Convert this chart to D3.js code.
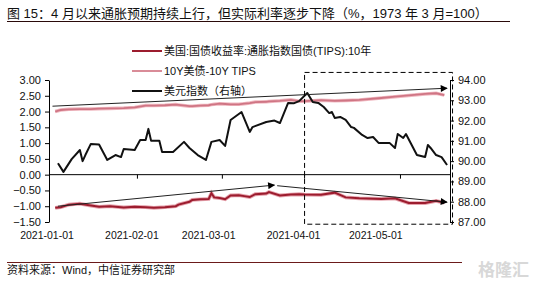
<!DOCTYPE html>
<html><head><meta charset="utf-8">
<script src="https://cdn.jsdelivr.net/npm/d3@7"></script>
<style>
html,body{margin:0;padding:0;background:#fff;}
svg{display:block;font-family:"Liberation Sans","Noto Sans CJK SC",sans-serif;}
</style></head>
<body><svg id="c" width="553" height="282"></svg>
<script>
// ---------- data ----------
const titleText = "图 15：4 月以来通胀预期持续上行，但实际利率逐步下降（%，1973 年 3 月=100）";
const sourceText = "资料来源：Wind，中信证券研究部";
const seriesNames = ["美国:国债收益率:通胀指数国债(TIPS):10年", "10Y美债-10Y TIPS", "美元指数（右轴）"];
const xLabelDates = ["2021-01-01","2021-02-01","2021-03-01","2021-04-01","2021-05-01"];
const xTickDates = ["2021-02-03","2021-03-06","2021-04-05","2021-05-10"];
const leftTicks = [-1.5,-1.0,-0.5,0,0.5,1.0,1.5,2.0,2.5,3.0];
const rightTicks = [87,88,89,90,91,92,93,94];

const rateDates = ["2021-01-04","2021-01-06","2021-01-09","2021-01-13","2021-01-17","2021-01-20","2021-01-24","2021-01-29",
 "2021-02-02","2021-02-06","2021-02-09","2021-02-13","2021-02-17","2021-02-18","2021-02-22","2021-02-23","2021-02-26",
 "2021-03-01","2021-03-02","2021-03-03","2021-03-05","2021-03-07","2021-03-09","2021-03-12","2021-03-14","2021-03-16",
 "2021-03-18","2021-03-22","2021-03-23","2021-03-27","2021-03-31","2021-04-03","2021-04-05","2021-04-11","2021-04-16",
 "2021-04-20","2021-04-25","2021-05-03","2021-05-08","2021-05-13","2021-05-19","2021-05-23","2021-05-26"];
const tipsYield = [-1.05,-1.03,-0.95,-0.92,-0.98,-1.02,-1.00,-1.04,
 -1.02,-1.03,-1.05,-1.03,-1.00,-0.95,-0.86,-0.80,-0.78,
 -0.77,-0.59,-0.72,-0.74,-0.78,-0.66,-0.65,-0.68,-0.71,
 -0.62,-0.60,-0.55,-0.66,-0.63,-0.62,-0.63,-0.64,-0.57,
 -0.72,-0.75,-0.77,-0.75,-0.90,-0.90,-0.83,-0.89];
const breakeven = [2.00,2.05,2.07,2.08,2.08,2.09,2.10,2.11,
 2.13,2.19,2.19,2.20,2.22,2.21,2.17,2.17,2.19,
 2.20,2.22,2.23,2.25,2.24,2.23,2.23,2.25,2.27,
 2.30,2.31,2.32,2.34,2.37,2.33,2.33,2.36,2.34,
 2.35,2.37,2.43,2.47,2.51,2.56,2.58,2.52];

const dxyDates = ["2021-01-05","2021-01-07","2021-01-10","2021-01-13","2021-01-14","2021-01-15","2021-01-17","2021-01-20",
 "2021-01-23","2021-01-26","2021-01-28","2021-01-29","2021-02-02","2021-02-04","2021-02-06","2021-02-07","2021-02-08",
 "2021-02-11","2021-02-12","2021-02-16","2021-02-20","2021-02-22","2021-02-25","2021-02-28","2021-03-02","2021-03-05",
 "2021-03-07","2021-03-09","2021-03-13","2021-03-16","2021-03-17","2021-03-22","2021-03-25","2021-03-27","2021-03-30",
 "2021-04-01","2021-04-03","2021-04-06","2021-04-08","2021-04-10","2021-04-12","2021-04-14","2021-04-15","2021-04-16",
 "2021-04-18","2021-04-20","2021-04-22","2021-04-23","2021-04-26","2021-04-28","2021-04-30","2021-05-02","2021-05-06",
 "2021-05-08","2021-05-09","2021-05-11","2021-05-12","2021-05-16","2021-05-19","2021-05-20","2021-05-21","2021-05-23",
 "2021-05-25","2021-05-27"];
const dxy = [89.90,89.47,90.10,90.55,90.00,90.30,90.85,90.82,
 90.06,90.30,90.20,90.60,90.55,91.04,91.04,91.59,91.00,
 91.00,90.45,90.45,90.95,90.65,90.30,90.06,90.95,91.04,
 90.75,92.03,92.42,91.44,91.68,91.93,92.00,91.88,92.87,
 92.85,92.96,93.36,92.92,92.87,92.67,92.37,92.42,92.13,
 92.18,92.03,91.68,91.64,91.29,91.14,91.19,90.90,90.90,
 90.65,91.34,91.14,91.34,90.30,90.20,90.80,90.65,90.30,
 90.20,89.81];

// annotation endpoints in data terms [date, left-axis value]
const upperArrow = [["2021-01-03",2.17],["2021-05-27",2.74]];
const lowerArrow1 = [["2021-01-05",-1.00],["2021-03-25",-0.33]];
const lowerArrow2 = [["2021-03-26",-0.35],["2021-05-27",-0.87]];
const boxDates = ["2021-04-05","2021-05-29"];
const boxValues = [3.24,-1.57];

// ---------- drawing ----------
const parse = d3.timeParse("%Y-%m-%d");
const svg = d3.select("#c");
const L = 49, R = 450, T = 80, B = 222;
const x = d3.scaleTime().domain([parse("2021-01-01"), parse("2021-05-28")]).range([47, 449.8]);
const yL = d3.scaleLinear().domain([-1.5, 3]).range([B, T]);
const yR = d3.scaleLinear().domain([87, 94]).range([B, T]);

// title
svg.append("text").attr("x",7).attr("y",18).attr("font-size",13).attr("fill","#111").text(titleText);
svg.append("line").attr("x1",7).attr("x2",510).attr("y1",21.5).attr("y2",21.5).attr("stroke","#2a0a0a").attr("stroke-width",1.2);

// axes
const la = svg.append("g").attr("transform",`translate(${L},0)`)
  .call(d3.axisLeft(yL).tickValues(leftTicks).tickFormat(d3.format(".2f")).tickSize(4).tickPadding(4).tickSizeOuter(0));
const ra = svg.append("g").attr("transform",`translate(${R},0)`)
  .call(d3.axisRight(yR).tickValues(rightTicks).tickFormat(d3.format(".2f")).tickSize(4).tickPadding(4).tickSizeOuter(0));
[la,ra].forEach(g=>{
  g.selectAll("text").attr("font-size",11).attr("fill","#111").attr("font-family","Liberation Sans, sans-serif");
  g.selectAll("path,line").attr("stroke","#000");
});

// zero line and x ticks
svg.append("line").attr("x1",L).attr("x2",R).attr("y1",yL(0)).attr("y2",yL(0)).attr("stroke","#000").attr("stroke-width",1);
svg.append("g").selectAll("line").data(xTickDates).join("line")
  .attr("x1",d=>x(parse(d))).attr("x2",d=>x(parse(d)))
  .attr("y1",yL(0)).attr("y2",yL(0)+4).attr("stroke","#000");
svg.append("g").selectAll("text").data(xLabelDates).join("text")
  .attr("x",d=>x(parse(d))).attr("y",239).attr("text-anchor","middle")
  .attr("font-size",10.5).attr("fill","#111").text(d=>d);

// lines
const rd = rateDates.map(parse);
const lineL = d3.line().x(d=>x(d[0])).y(d=>yL(d[1]));
const lineR = d3.line().x(d=>x(d[0])).y(d=>yR(d[1]));
const beData = rd.map((d,i)=>[d,breakeven[i]]);
const tipsData = rd.map((d,i)=>[d,tipsYield[i]]);
const dxyData = dxyDates.map((d,i)=>[parse(d),dxy[i]]);

svg.append("path").attr("d",lineL(beData)).attr("fill","none").attr("stroke","#f0b8c0").attr("stroke-width",3.5);
svg.append("path").attr("d",lineL(beData)).attr("fill","none").attr("stroke","#cf7584").attr("stroke-width",1.8);
svg.append("path").attr("d",lineL(tipsData)).attr("fill","none").attr("stroke","#e6a3ad").attr("stroke-width",3.8);
svg.append("path").attr("d",lineL(tipsData)).attr("fill","none").attr("stroke","#9c1c2e").attr("stroke-width",2);
svg.append("path").attr("d",lineR(dxyData)).attr("fill","none").attr("stroke","#111").attr("stroke-width",2).attr("stroke-linejoin","round");

// arrow marker
const defs = svg.append("defs");
defs.append("marker").attr("id","arr").attr("viewBox","0 0 10 10").attr("refX",9).attr("refY",5)
  .attr("markerWidth",8).attr("markerHeight",7).attr("markerUnits","userSpaceOnUse").attr("orient","auto")
  .append("path").attr("d","M0,0 L10,5 L0,10 Z").attr("fill","#000");

[upperArrow, lowerArrow1, lowerArrow2].forEach(a=>{
  svg.append("line")
    .attr("x1",x(parse(a[0][0]))).attr("y1",yL(a[0][1]))
    .attr("x2",x(parse(a[1][0]))).attr("y2",yL(a[1][1]))
    .attr("stroke","#222").attr("stroke-width",1).attr("marker-end", a===upperArrow||true ? "url(#arr)" : null);
});

// dashed box
const bx0 = x(parse(boxDates[0])), bx1 = x(parse(boxDates[1]));
svg.append("rect").attr("x",bx0).attr("y",yL(boxValues[0])).attr("width",bx1-bx0)
  .attr("height",yL(boxValues[1])-yL(boxValues[0]))
  .attr("fill","none").attr("stroke","#000").attr("stroke-width",1).attr("stroke-dasharray","5,3");

// legend
const legColors = ["#9c1c2e","#d98c98","#111"];
const lg = svg.append("g");
seriesNames.forEach((n,i)=>{
  const yy = 51 + i*20;
  lg.append("line").attr("x1",132).attr("x2",162).attr("y1",yy).attr("y2",yy)
    .attr("stroke",legColors[i]).attr("stroke-width",2);
  lg.append("text").attr("x",164).attr("y",yy+4).attr("font-size",11).attr("fill","#111").text(n);
});

// source
svg.append("line").attr("x1",7).attr("x2",462).attr("y1",262.5).attr("y2",262.5).attr("stroke","#6b1a1a").attr("stroke-width",1);
svg.append("text").attr("x",7).attr("y",274).attr("font-size",11).attr("fill","#111").text(sourceText);
svg.append("text").attr("x",478).attr("y",276).attr("font-size",17).attr("fill","#d8d8d8").attr("font-weight","bold").text("格隆汇");
</script></body></html>
